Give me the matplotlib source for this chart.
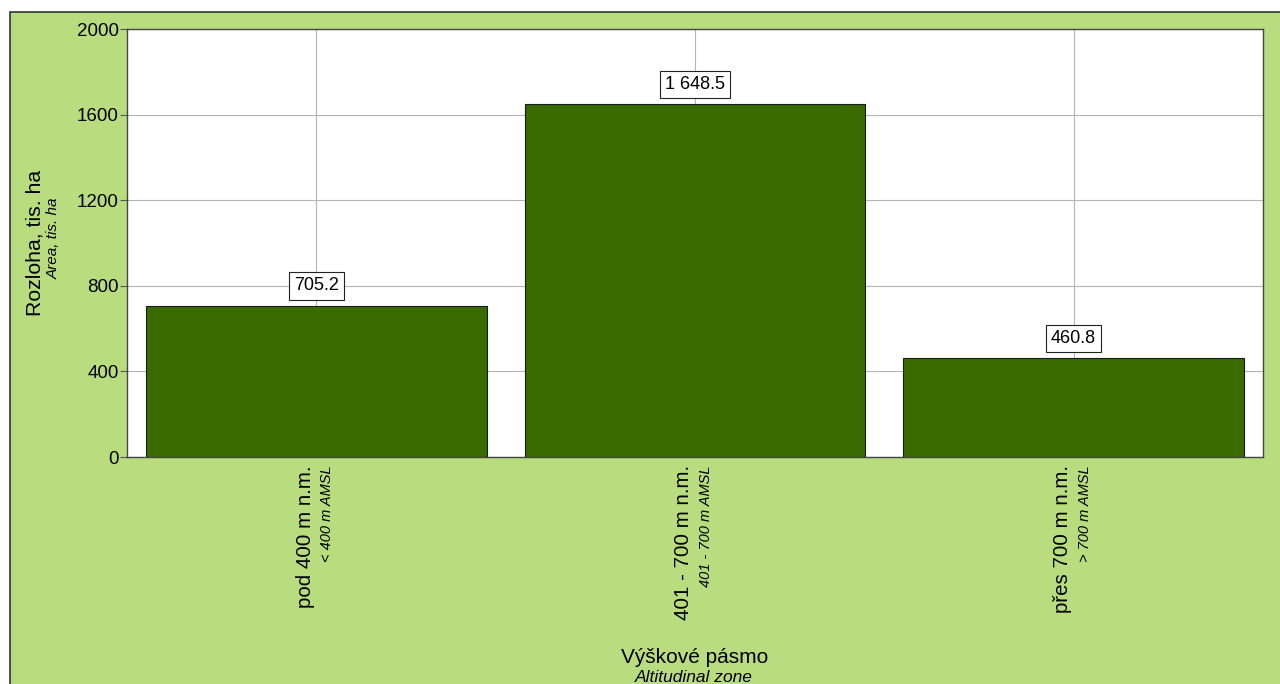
import matplotlib
matplotlib.use('Agg')

from matplotlib import pyplot as plt
from matplotlib.patches import Rectangle

plt.rcParams['font.family'] = ['Liberation Sans', 'DejaVu Sans']

zones_cz = ["pod 400 m n.m.", "401 - 700 m n.m.", "přes 700 m n.m."]
zones_en = ["< 400 m AMSL", "401 - 700 m AMSL", "> 700 m AMSL"]
area = [705.2, 1648.5, 460.8]
y_ticks = [0, 400, 800, 1200, 1600, 2000]

bg = '#b9dc7f'
bar_color = '#3a6b00'

fig = plt.figure(figsize=(12.8, 6.84), dpi=100, facecolor='white')

# green panel with a dark frame on the top and left edge
fig.patches.append(Rectangle((10 / 1280, -0.1), 1.5, (684 - 12) / 684 + 0.1,
                             transform=fig.transFigure, facecolor=bg,
                             edgecolor='#333333', linewidth=1.2, zorder=-10))

ax = fig.add_axes([127 / 1280, (684 - 457) / 684, 1136 / 1280, 428 / 684])
ax.set_facecolor('white')
ax.set_zorder(1)

x = list(range(len(area)))
ax.bar(x, area, width=0.9, color=bar_color, edgecolor='#1a1a1a', linewidth=0.8, zorder=3)

for xi, v in zip(x, area):
    label = f"{v:,.1f}".replace(",", " ")
    ax.annotate(label, (xi, v), xytext=(0, 14.5), textcoords='offset points',
                ha='center', va='center', fontsize=13, zorder=5,
                bbox=dict(boxstyle='square,pad=0.28', facecolor='white',
                          edgecolor='#222222', linewidth=0.8))

ax.set_xlim(-0.5, 2.5)
ax.set_ylim(0, 2000)
ax.set_yticks(y_ticks)
ax.set_yticklabels([str(t) for t in y_ticks], fontsize=13.5)
ax.set_xticks(x)
ax.set_xticklabels([])
ax.tick_params(axis='x', length=0)
ax.tick_params(axis='y', direction='out', length=5, color='#555555', pad=1)
ax.grid(True, color='#b5b5b5', linewidth=0.8, zorder=0)
for s in ax.spines.values():
    s.set_color('#444444')
    s.set_linewidth(1.0)

# rotated two-line category labels
trans = ax.get_xaxis_transform()
for xi, cz, en in zip(x, zones_cz, zones_en):
    ax.annotate(cz, (xi, 0), xycoords=trans, xytext=(-8, -6), textcoords='offset points',
                rotation=90, ha='center', va='top', fontsize=14.8)
    ax.annotate(en, (xi, 0), xycoords=trans, xytext=(8, -6), textcoords='offset points',
                rotation=90, ha='center', va='top', fontsize=10.5, style='italic')

fig.text(35 / 1280, 1 - 243 / 684, "Rozloha, tis. ha", rotation=90,
         ha='center', va='center', fontsize=15.3)
fig.text(54 / 1280, 1 - 238 / 684, "Area, tis. ha", rotation=90,
         ha='center', va='center', fontsize=11, style='italic')
fig.text(695 / 1280, 1 - 663 / 684, "Výškové pásmo", ha='center', va='baseline', fontsize=15)
fig.text(694 / 1280, 1 - 682 / 684, "Altitudinal zone", ha='center', va='baseline',
         fontsize=12.5, style='italic')

fig.savefig('out.png', dpi=100, facecolor=fig.get_facecolor())
